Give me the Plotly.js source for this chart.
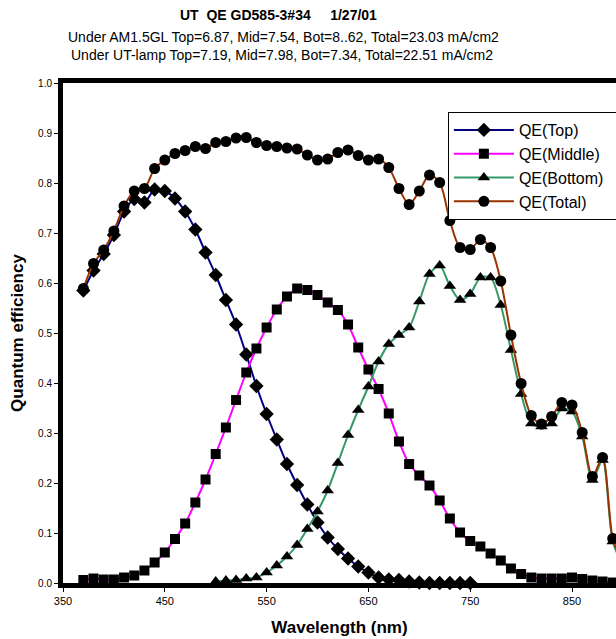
<!DOCTYPE html>
<html>
<head>
<meta charset="utf-8">
<script src="https://cdn.plot.ly/plotly-3.0.1.min.js"></script>
<style>html,body{margin:0;padding:0;background:#fff;}#chart{width:616px;height:639px;}</style>
</head>
<body>
<div id="chart"></div>
<script>
// Wavelengths (nm)
const wlTop = [370,380,390,400,410,420,430,440,450,460,470,480,490,500,510,520,530,540,550,560,570,580,590,600,610,620,630,640,650,660,670,680,690,700,710,720,730,740,750];
const qeTop = [0.585,0.625,0.658,0.696,0.743,0.768,0.761,0.787,0.784,0.769,0.743,0.707,0.661,0.616,0.566,0.517,0.457,0.394,0.338,0.287,0.238,0.196,0.157,0.121,0.091,0.068,0.049,0.033,0.021,0.011,0.007,0.006,0.003,0.001,0.0,0.0,0.0,0.0,0.0];

const wlMid = [370,380,390,400,410,420,430,440,450,460,470,480,490,500,510,520,530,540,550,560,570,580,590,600,610,620,630,640,650,660,670,680,690,700,710,720,730,740,750,760,770,780,790,800,810,820,830,840,850,860,870,880,890];
const qeMid = [0.006,0.009,0.007,0.007,0.011,0.015,0.025,0.041,0.061,0.088,0.119,0.161,0.207,0.258,0.311,0.366,0.421,0.469,0.511,0.547,0.573,0.589,0.586,0.576,0.561,0.546,0.517,0.471,0.427,0.388,0.339,0.283,0.238,0.215,0.195,0.165,0.129,0.101,0.084,0.073,0.059,0.045,0.029,0.018,0.011,0.009,0.009,0.009,0.011,0.008,0.005,0.003,0.001];

const wlBot = [500,510,520,530,540,550,560,570,580,590,600,610,620,630,640,650,660,670,680,690,700,710,720,730,740,750,760,770,780,790,800,810,820,830,840,850,860,870,880,890,900];
const qeBot = [0.003,0.005,0.006,0.009,0.011,0.021,0.035,0.053,0.076,0.108,0.143,0.185,0.240,0.296,0.346,0.393,0.443,0.478,0.496,0.511,0.563,0.618,0.635,0.594,0.566,0.578,0.611,0.611,0.556,0.466,0.378,0.319,0.313,0.319,0.349,0.343,0.293,0.206,0.246,0.083,0.035];

const wlTot = [370,380,390,400,410,420,430,440,450,460,470,480,490,500,510,520,530,540,550,560,570,580,590,600,610,620,630,640,650,660,670,680,690,700,710,720,730,740,750,760,770,780,790,800,810,820,830,840,850,860,870,880,890,900];
const qeTot = [0.589,0.639,0.666,0.704,0.754,0.784,0.789,0.829,0.846,0.859,0.865,0.873,0.869,0.881,0.883,0.890,0.891,0.881,0.875,0.873,0.870,0.868,0.856,0.846,0.848,0.861,0.866,0.855,0.846,0.848,0.831,0.789,0.757,0.784,0.816,0.801,0.725,0.671,0.667,0.687,0.671,0.604,0.496,0.399,0.335,0.318,0.333,0.361,0.356,0.301,0.213,0.251,0.089,0.040];

const seriesNames = ["QE(Top)","QE(Middle)","QE(Bottom)","QE(Total)"];
const xTicks = [350,450,550,650,750,850];
const yTicks = [0,0.1,0.2,0.3,0.4,0.5,0.6,0.7,0.8,0.9,1.0];
const yTickText = ["0.0","0.1","0.2","0.3","0.4","0.5","0.6","0.7","0.8","0.9","1.0"];

const titleLine1 = "UT  QE GD585-3#34     1/27/01";
const titleLine2 = "Under AM1.5GL Top=6.87, Mid=7.54, Bot=8..62, Total=23.03 mA/cm2";
const titleLine3 = "Under UT-lamp Top=7.19, Mid=7.98, Bot=7.34, Total=22.51 mA/cm2";

const FONT = "Arial, 'Liberation Sans', sans-serif";
const PAD = "\u00a0".repeat(11);

function tr(x, y, name, color, symbol, size) {
  return {
    x: x, y: y, name: name, type: "scatter", mode: "lines+markers",
    line: {color: color, width: 2, shape: "spline", smoothing: 0.8},
    marker: {color: "#000000", symbol: symbol, size: size, line: {width: 0}},
    cliponaxis: false
  };
}

const data = [
  tr(wlTop, qeTop, seriesNames[0], "#000080", "diamond", 11),
  tr(wlMid, qeMid, seriesNames[1], "#FF00FF", "square", 10),
  tr(wlBot, qeBot, seriesNames[2] + PAD, "#339966", "triangle-up", 11),
  tr(wlTot, qeTot, seriesNames[3], "#993300", "circle", 11)
];

const layout = {
  width: 616, height: 639,
  margin: {l: 63, r: 0, t: 83, b: 56, pad: 0, autoexpand: false},
  paper_bgcolor: "#ffffff", plot_bgcolor: "#ffffff",
  font: {family: FONT, color: "#000000", size: 10},
  showlegend: true,
  legend: {
    x: 0.696, y: 0.942, xanchor: "left", yanchor: "top",
    bgcolor: "#ffffff", bordercolor: "#000000", borderwidth: 1,
    font: {family: FONT, size: 16, color: "#000000"},
    tracegroupgap: 0, itemwidth: 60
  },
  xaxis: {
    range: [350, 893.2], tickvals: xTicks, ticktext: xTicks.map(String),
    ticks: "outside", ticklen: 4, tickwidth: 1, tickcolor: "#000000",
    showline: true, linewidth: 5, linecolor: "#000000", mirror: true,
    showgrid: false, zeroline: false, layer: "below traces",
    tickfont: {family: FONT, size: 11, color: "#000000"},
    title: {text: "<b>Wavelength (nm)</b>", font: {family: FONT, size: 17, color: "#000000"}, standoff: 16}
  },
  yaxis: {
    range: [0, 1.0], tickvals: yTicks, ticktext: yTickText,
    ticks: "outside", ticklen: 4, tickwidth: 1, tickcolor: "#000000",
    showline: true, linewidth: 5, linecolor: "#000000", mirror: true,
    showgrid: false, zeroline: false, layer: "below traces",
    tickfont: {family: FONT, size: 10, color: "#000000"},
    title: {text: "<b>Quantum efficiency</b>", font: {family: FONT, size: 17, color: "#000000"}, standoff: 12}
  },
  annotations: [
    {text: "<b>" + titleLine1 + "</b>", xref: "paper", yref: "paper", x: 0.389, y: 1.136, xanchor: "center", yanchor: "middle", showarrow: false, font: {family: FONT, size: 14, color: "#000000"}},
    {text: titleLine2, xref: "paper", yref: "paper", x: 0.399, y: 1.092, xanchor: "center", yanchor: "middle", showarrow: false, font: {family: FONT, size: 14, color: "#000000"}},
    {text: titleLine3, xref: "paper", yref: "paper", x: 0.396, y: 1.056, xanchor: "center", yanchor: "middle", showarrow: false, font: {family: FONT, size: 14, color: "#000000"}}
  ]
};

Plotly.newPlot("chart", data, layout, {displayModeBar: false, staticPlot: true});
</script>
</body>
</html>
